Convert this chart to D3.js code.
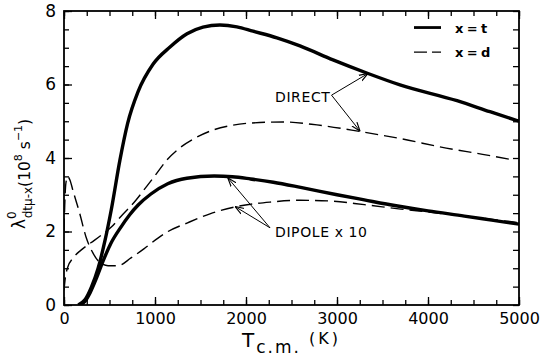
<!DOCTYPE html>
<html>
<head>
<meta charset="utf-8">
<script src="https://cdn.jsdelivr.net/npm/d3@7"></script>
<style>
  body { margin: 0; background: #fff; }
  svg { font-family: 'DejaVu Sans', 'Liberation Sans', sans-serif; }
</style>
</head>
<body>
<div id="chart"></div>
<script>
// tick labels
const xTicks = [0, 1000, 2000, 3000, 4000, 5000];
const yTicks = [0, 2, 4, 6, 8];

// curves: [T (K), rate (10^8 s^-1)]
const directT = [[155,0],[230,0.14],[300,0.48],[375,1.0],[450,1.75],[520,2.6],[615,3.95],[700,4.95],[813,5.8],
  [978,6.55],[1165,7.02],[1352,7.38],[1527,7.56],[1714,7.62],[1900,7.57],[2077,7.45],[2340,7.27],[2593,7.05],
  [2956,6.67],[3341,6.3],[3692,5.99],[4319,5.56],[4681,5.26],[5000,5.0]];
const directD = [[0,0.4],[15,0.75],[40,1.02],[100,1.28],[190,1.5],[300,1.7],[410,1.9],[520,2.12],[615,2.38],
  [790,2.85],[900,3.2],[1000,3.52],[1132,3.95],[1275,4.28],[1462,4.57],[1637,4.76],[1824,4.88],[2044,4.95],
  [2407,4.98],[2780,4.9],[3253,4.72],[3692,4.53],[4200,4.27],[4600,4.1],[4930,3.95]];
const dipoleT = [[175,0],[230,0.1],[290,0.35],[360,0.75],[430,1.2],[520,1.7],[620,2.1],[720,2.45],[815,2.72],
  [955,3.02],[1140,3.3],[1350,3.45],[1650,3.51],[1850,3.49],[2050,3.43],[2300,3.34],[2600,3.2],[3000,3.0],
  [3300,2.86],[3650,2.7],[4000,2.56],[4400,2.42],[4700,2.31],[5000,2.2]];
const dipoleD = [[0,2.0],[8,2.7],[20,3.3],[40,3.5],[65,3.4],[100,3.1],[172,2.5],[242,1.85],[319,1.41],[392,1.16],
  [484,1.07],[593,1.07],[736,1.28],[890,1.55],[1033,1.82],[1143,2.0],[1352,2.23],[1604,2.48],[1901,2.68],
  [2264,2.8],[2593,2.85],[2923,2.83],[3300,2.73],[3700,2.61],[4000,2.53],[4500,2.39],[5000,2.24]];

const W = 542, H = 358;
const x = d3.scaleLinear().domain([0, 5000]).range([64, 519]);
const y = d3.scaleLinear().domain([0, 8]).range([305, 11]);

const svg = d3.select("#chart").append("svg").attr("width", W).attr("height", H);

svg.append("clipPath").attr("id", "plot")
  .append("rect").attr("x", x(0)).attr("y", y(8)).attr("width", x(5000) - x(0)).attr("height", y(0) - y(8));

// ticks (inward on all four sides)
function noDomain(g) { g.select(".domain").remove(); g.selectAll(".tick line").attr("stroke", "#000").attr("stroke-width", 1.3); }
const xMinor = d3.range(0, 5001, 250), xMajor = d3.range(0, 5001, 1000);
const yMinor = d3.range(0, 8.01, 0.5), yMajor = d3.range(0, 8.01, 2);

svg.append("g").attr("transform", `translate(0,${y(0)})`)
  .call(d3.axisBottom(x).tickValues(xMinor).tickSize(-5).tickFormat("")).call(noDomain);
svg.append("g").attr("transform", `translate(0,${y(0)})`)
  .call(d3.axisBottom(x).tickValues(xMajor).tickSize(-8).tickFormat("")).call(noDomain);
svg.append("g").attr("transform", `translate(0,${y(8)})`)
  .call(d3.axisTop(x).tickValues(xMinor).tickSize(-5).tickFormat("")).call(noDomain);
svg.append("g").attr("transform", `translate(0,${y(8)})`)
  .call(d3.axisTop(x).tickValues(xMajor).tickSize(-8).tickFormat("")).call(noDomain);
svg.append("g").attr("transform", `translate(${x(0)},0)`)
  .call(d3.axisLeft(y).tickValues(yMinor).tickSize(-5).tickFormat("")).call(noDomain);
svg.append("g").attr("transform", `translate(${x(0)},0)`)
  .call(d3.axisLeft(y).tickValues(yMajor).tickSize(-8).tickFormat("")).call(noDomain);
svg.append("g").attr("transform", `translate(${x(5000)},0)`)
  .call(d3.axisRight(y).tickValues(yMinor).tickSize(-6).tickFormat("")).call(noDomain);

// tick labels
svg.append("g").attr("transform", `translate(0,${y(0)})`)
  .call(d3.axisBottom(x).tickValues(xTicks).tickSize(0).tickPadding(8).tickFormat(d3.format("d")))
  .call(g => g.select(".domain").remove())
  .selectAll("text").attr("fill", "#000").style("font-size", "16px").style("font-family", "DejaVu Sans");
svg.append("g").attr("transform", `translate(${x(0)},0)`)
  .call(d3.axisLeft(y).tickValues(yTicks).tickSize(0).tickPadding(8))
  .call(g => g.select(".domain").remove())
  .selectAll("text").attr("fill", "#000").style("font-size", "17px").style("font-family", "DejaVu Sans");

// frame
svg.append("rect").attr("x", x(0)).attr("y", y(8)).attr("width", x(5000) - x(0)).attr("height", y(0) - y(8))
  .attr("fill", "none").attr("stroke", "#000").attr("stroke-width", 1.8);

// curves
const line = d3.line().x(d => x(d[0])).y(d => y(d[1])).curve(d3.curveMonotoneX);
const curves = svg.append("g").attr("clip-path", "url(#plot)").attr("fill", "none").attr("stroke", "#000");
curves.append("path").datum(directD).attr("d", line).attr("stroke-width", 1.4).attr("stroke-dasharray", "13,6");
curves.append("path").datum(dipoleD).attr("d", line).attr("stroke-width", 1.4).attr("stroke-dasharray", "13,6");
curves.append("path").datum(directT).attr("d", line).attr("stroke-width", 3.4);
curves.append("path").datum(dipoleT).attr("d", line).attr("stroke-width", 3.4);

// annotations
svg.append("defs").append("marker").attr("id", "arr")
  .attr("viewBox", "0 0 10 10").attr("refX", 10).attr("refY", 5)
  .attr("markerWidth", 9).attr("markerHeight", 9).attr("markerUnits", "userSpaceOnUse").attr("orient", "auto")
  .append("path").attr("d", "M0,1.5 L10,5 L0,8.5").attr("fill", "none").attr("stroke", "#000").attr("stroke-width", 1.3);

const notes = [
  { text: "DIRECT", at: [2319, 5.52], from: [2940, 5.71], tips: [[3341, 6.3], [3253, 4.73]] },
  { text: "DIPOLE x 10", at: [2319, 1.85], from: [2264, 2.1], tips: [[1800, 3.46], [1879, 2.68]] }
];
notes.forEach(n => {
  svg.append("text").attr("x", x(n.at[0])).attr("y", y(n.at[1])).style("font-size", "14px")
    .style("letter-spacing", "0.6px").text(n.text);
  n.tips.forEach(t => {
    svg.append("line").attr("x1", x(n.from[0])).attr("y1", y(n.from[1])).attr("x2", x(t[0])).attr("y2", y(t[1]))
      .attr("stroke", "#000").attr("stroke-width", 1).attr("marker-end", "url(#arr)");
  });
});

// legend
const legend = [
  { label: "x = t", dash: null, v: 7.55 },
  { label: "x = d", dash: "13,5", v: 6.88 }
];
legend.forEach(l => {
  svg.append("line").attr("x1", x(3846)).attr("x2", x(4143)).attr("y1", y(l.v)).attr("y2", y(l.v))
    .attr("stroke", "#000").attr("stroke-width", l.dash ? 1.4 : 2.8).attr("stroke-dasharray", l.dash);
  svg.append("text").attr("x", x(4297)).attr("y", y(l.v) + 5).style("font-size", "13px").style("font-weight", "bold")
    .style("letter-spacing", "-0.6px").text(l.label);
});

// axis titles
const xt = svg.append("text").attr("x", 242).attr("y", 347).attr("fill", "#000");
xt.append("tspan").style("font-size", "20px").text("T");
xt.append("tspan").attr("dy", 6).attr("dx", 2).style("font-size", "17px").style("letter-spacing", "2px").text("c.m.");
xt.append("tspan").attr("dy", -9).attr("dx", 8).style("font-size", "16px").style("letter-spacing", "3px").text("(K)");

const yl = svg.append("text").attr("transform", "translate(25,229) rotate(-90)").attr("fill", "#000");
yl.append("tspan").style("font-size", "17px").text("λ");
yl.append("tspan").attr("dy", -9).style("font-size", "12px").text("0");
yl.append("tspan").attr("dx", -7).attr("dy", 16).style("font-size", "12px").text("dtμ-x");
yl.append("tspan").attr("dy", -2).style("font-size", "15.5px").text("(10");
yl.append("tspan").attr("dy", -8).style("font-size", "11px").text("8");
yl.append("tspan").attr("dy", 8).style("font-size", "15.5px").text(" s");
yl.append("tspan").attr("dy", -8).style("font-size", "11px").text("−1");
yl.append("tspan").attr("dy", 8).style("font-size", "15.5px").text(")");
</script>
</body>
</html>
